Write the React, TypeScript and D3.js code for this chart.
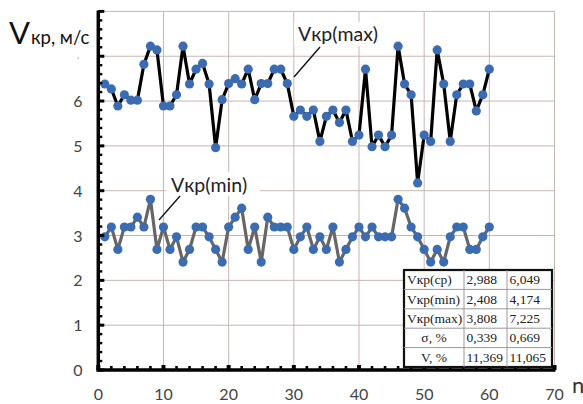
import React from "react";
import * as d3 from "d3";

// Critical velocity per run n = 1..60
const runs: number[] = d3.range(1, 61);

const vMax: number[] = [
  6.38, 6.27, 5.89, 6.14, 6.02, 6.02, 6.82, 7.225, 7.14, 5.89,
  5.89, 6.14, 7.225, 6.38, 6.71, 6.84, 6.38, 4.96, 6.03, 6.39,
  6.5, 6.38, 6.71, 6.03, 6.39, 6.39, 6.71, 6.71, 6.39, 5.66,
  5.8, 5.66, 5.8, 5.1, 5.66, 5.8, 5.52, 5.8, 5.1, 5.24,
  6.71, 4.98, 5.24, 4.98, 5.24, 7.225, 6.38, 6.14, 4.174, 5.24,
  5.1, 7.14, 6.38, 5.1, 6.14, 6.38, 6.38, 5.78, 6.14, 6.71,
];

const vMin: number[] = [
  2.97, 3.19, 2.69, 3.19, 3.19, 3.41, 3.19, 3.808, 2.69, 3.19,
  2.69, 2.97, 2.408, 2.69, 3.19, 3.19, 2.97, 2.69, 2.408, 3.19,
  3.41, 3.61, 2.69, 3.19, 2.408, 3.41, 3.19, 3.19, 3.19, 2.69,
  2.97, 3.19, 2.69, 2.97, 2.69, 3.19, 2.408, 2.69, 2.97, 3.19,
  2.97, 3.19, 2.97, 2.97, 2.97, 3.808, 3.61, 3.19, 2.97, 2.69,
  2.408, 2.69, 2.408, 2.97, 3.19, 3.19, 2.69, 2.69, 2.97, 3.19,
];

const xTicks: number[] = [0, 10, 20, 30, 40, 50, 60, 70];
const yTickLabels: number[] = [0, 1, 2, 3, 4, 5, 6];
const yGrid: number[] = [1, 2, 3, 4, 5, 6, 7, 8];

// Summary statistics table
const statNames: string[] = ["Vкр(ср)", "Vкр(min)", "Vкр(max)", "σ, %", "V, %"];
const statMinCol: string[] = ["2,988", "2,408", "3,808", "0,339", "11,369"];
const statMaxCol: string[] = ["6,049", "4,174", "7,225", "0,669", "11,065"];

const W = 583;
const H = 404;
const FONT = "Lato, 'Open Sans', sans-serif";
const MARK = "#3b6cb2";
const GRID = "#c6b6b2";

export default function App() {
  const x = d3.scaleLinear().domain([0, 70]).range([98.3, 554.5]);
  const y = d3.scaleLinear().domain([0, 8]).range([370, 11.4]);

  const line = d3
    .line<number>()
    .x((_, i) => x(runs[i]))
    .y((d) => y(d));

  const minorY = d3.range(0, 40).map((k) => k * 0.2).filter((v) => Math.abs(v - Math.round(v)) > 1e-6);
  const minorX = d3.range(2, 70, 2).filter((v) => v % 10 !== 0);

  const tX0 = 404;
  const tCols = [404, 464, 507, 552];
  const tY0 = 270;
  const rowH = 19.4;

  return (
    <svg
      width={W}
      height={H}
      style={{ position: "absolute", left: 0, top: 0, background: "#fff" }}
      fontFamily={FONT}
    >
      {/* grid */}
      {yGrid.map((v) => (
        <line key={"gy" + v} x1={x(0)} x2={x(70)} y1={y(v)} y2={y(v)} stroke={GRID} strokeWidth={1} />
      ))}
      {xTicks.filter((v) => v > 0).map((v) => (
        <line key={"gx" + v} x1={x(v)} x2={x(v)} y1={y(8)} y2={y(0)} stroke={GRID} strokeWidth={1} />
      ))}

      {/* label backgrounds */}
      <rect x={294} y={22} width={96} height={24} fill="#fff" />
      <rect x={166} y={172} width={94} height={24} fill="#fff" />

      {/* leader lines */}
      <line x1={320} y1={47} x2={294} y2={77} stroke="#111" strokeWidth={1.4} />
      <line x1={180} y1={196} x2={159} y2={220} stroke="#111" strokeWidth={1.4} />

      {/* series */}
      <path d={line(vMax) || ""} fill="none" stroke="#000" strokeWidth={3.2} strokeLinejoin="round" />
      <path d={line(vMin) || ""} fill="none" stroke="#666" strokeWidth={3.2} strokeLinejoin="round" />
      {vMax.map((v, i) => (
        <circle key={"mx" + i} cx={x(runs[i])} cy={y(v)} r={4.6} fill={MARK} />
      ))}
      {vMin.map((v, i) => (
        <circle key={"mn" + i} cx={x(runs[i])} cy={y(v)} r={4.6} fill={MARK} />
      ))}

      {/* axes */}
      <line x1={x(0)} x2={x(0)} y1={y(8) - 1} y2={y(0) + 1.5} stroke="#000" strokeWidth={3.5} />
      {yGrid.concat([0]).map((v) => (
        <rect key={"ty" + v} x={x(0)} y={y(v) - 1.5} width={6} height={3} fill="#000" />
      ))}
      {minorY.map((v, i) => (
        <rect key={"my" + i} x={x(0)} y={y(v) - 1.2} width={4} height={2.4} fill="#000" />
      ))}
      <line x1={x(0) - 1.7} x2={x(70) + 1} y1={y(0)} y2={y(0)} stroke="#000" strokeWidth={3.5} />
      {xTicks.map((v) => (
        <rect key={"tx" + v} x={x(v) - 2} y={y(0) - 5} width={4} height={5} fill="#000" />
      ))}
      {minorX.map((v) => (
        <rect key={"mx2" + v} x={x(v) - 1.3} y={y(0) - 4} width={2.6} height={4} fill="#000" />
      ))}

      {/* tick labels */}
      {yTickLabels.map((v) => (
        <text key={"ly" + v} x={78} y={y(v) + 6} fontSize={16} fill="#444" textAnchor="middle">
          {v}
        </text>
      ))}
      <text x={78} y={64} fontSize={10} fill="#999" textAnchor="middle">'</text>
      {xTicks.map((v) => (
        <text key={"lx" + v} x={x(v)} y={400} fontSize={16} fill="#444" textAnchor="middle">
          {v}
        </text>
      ))}
      <text x={572} y={393} fontSize={22} fill="#333">n</text>

      {/* axis title */}
      <text x={9} y={44} fill="#111">
        <tspan fontSize={31}>V</tspan>
        <tspan fontSize={18.5} dx={1}>кр, м/с</tspan>
      </text>

      {/* series labels */}
      <text x={298} y={41} fontSize={19.5} fill="#222">Vкр(max)</text>
      <text x={171} y={192} fontSize={19.5} fill="#222">Vкр(min)</text>

      {/* statistics table */}
      <g fontFamily="'Liberation Serif', 'Times New Roman', serif" fontSize={13.5} fill="#222">
        <rect x={tX0} y={tY0} width={tCols[3] - tX0} height={rowH * 5} fill="#fff" stroke="#111" strokeWidth={2.2} />
        {d3.range(1, 5).map((r) => (
          <line key={"tr" + r} x1={tX0} x2={tCols[3]} y1={tY0 + r * rowH} y2={tY0 + r * rowH} stroke="#999" strokeWidth={1} />
        ))}
        {[tCols[1], tCols[2]].map((c) => (
          <line key={"tc" + c} x1={c} x2={c} y1={tY0} y2={tY0 + rowH * 5} stroke="#999" strokeWidth={1} />
        ))}
        {statNames.map((s, r) => {
          const cy = tY0 + r * rowH + rowH / 2 + 4.5;
          const centered = r >= 3;
          return (
            <g key={"row" + r}>
              <text
                x={centered ? (tCols[0] + tCols[1]) / 2 : tCols[0] + 3}
                y={cy}
                textAnchor={centered ? "middle" : "start"}
              >
                {s}
              </text>
              <text x={tCols[1] + 2.5} y={cy}>{statMinCol[r]}</text>
              <text x={tCols[2] + 2.5} y={cy}>{statMaxCol[r]}</text>
            </g>
          );
        })}
      </g>
    </svg>
  );
}
